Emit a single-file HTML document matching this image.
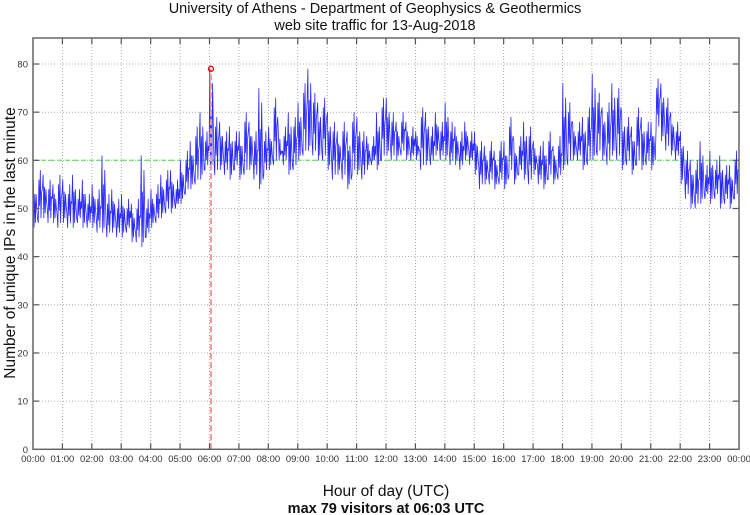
<!DOCTYPE html>
<html><head><meta charset="utf-8"><style>
body{margin:0;background:#fff;}
svg{display:block;font-family:"Liberation Sans",sans-serif;}
</style></head><body>
<svg id="chart" width="750" height="515" viewBox="0 0 750 515" xmlns="http://www.w3.org/2000/svg">
<text x="375" y="13" text-anchor="middle" font-size="14.5" fill="#111">University of Athens - Department of Geophysics &amp; Geothermics</text>
<text x="375" y="30" text-anchor="middle" font-size="14.5" fill="#111">web site traffic for 13-Aug-2018</text>
<text transform="translate(15,243) rotate(-90)" text-anchor="middle" font-size="15.5" fill="#111">Number of unique IPs in the last minute</text>
<text x="386" y="496" text-anchor="middle" font-size="15.5" fill="#111">Hour of day (UTC)</text>
<text x="386" y="513" text-anchor="middle" font-size="14.5" font-weight="bold" fill="#111">max 79 visitors at 06:03 UTC</text>
<g id="grid"></g>
<g id="marks"></g>
<g id="axes"></g>
</svg>
<script>
const hourLabels=["00:00","01:00","02:00","03:00","04:00","05:00","06:00","07:00","08:00","09:00","10:00","11:00","12:00","13:00","14:00","15:00","16:00","17:00","18:00","19:00","20:00","21:00","22:00","23:00","00:00"];
const yTicks=[0,10,20,30,40,50,60,70,80];
const binMinutes=10;
const hiValues=[56,58,57,56,55,57, 56,55,57,54,56,53, 55,54,61,53,54,52, 53,52,51,52,61,52, 54,55,57,58,58,56, 60,62,64,67,70,66,
 79,69,68,66,67,66, 66,70,68,66,75,66, 67,73,65,67,70,69, 72,76,79,74,72,73, 70,68,66,68,66,70, 69,66,65,65,70,73,
 73,70,68,70,68,67, 66,71,70,67,70,68, 72,68,67,66,68,66, 66,64,63,64,62,64, 64,69,64,65,68,67, 64,63,64,66,63,65,
 76,72,68,68,69,71, 78,74,71,72,76,75, 70,69,67,71,69,68, 68,77,76,73,70,68, 66,62,60,60,64,59, 62,60,61,59,59,62];
const loValues=[46,47,48,47,47,46, 47,46,46,47,46,46, 46,45,45,44,45,44, 44,45,43,43,42,44, 46,47,48,49,49,50, 51,53,54,55,56,58,
 58,57,58,57,56,58, 56,57,58,56,54,57, 58,59,60,59,57,58, 60,61,62,61,60,60, 58,56,57,56,54,57, 57,56,58,59,58,60,
 61,60,60,61,60,60, 60,58,59,59,61,60, 60,59,59,58,60,59, 57,54,55,55,54,55, 54,57,55,57,56,55, 57,55,54,56,55,56,
 58,59,60,60,58,59, 60,61,60,59,61,60, 58,59,57,59,58,59, 58,66,64,62,61,60, 55,52,50,50,51,52, 51,52,50,51,50,52];
const meanValue=[60];
const peakMinute=[363];
const peakValue=[79];

const L=33,R=739,T=38,B=449.3,YMAX=85.4;
const sx=m=>L+(R-L)*m/1440;
const sy=v=>B-(B-T)*v/YMAX;
const NS="http://www.w3.org/2000/svg";
function mk(tag,parent,attrs){const e=document.createElementNS(NS,tag);for(const k in attrs)e.setAttribute(k,attrs[k]);parent.appendChild(e);return e;}
const grid=document.getElementById('grid'),marks=document.getElementById('marks'),axes=document.getElementById('axes');

hourLabels.forEach((lab,i)=>{
  const x=sx(i*60);
  if(i>0&&i<24){
    const g=mk('line',grid,{x1:x,x2:x,y1:T,y2:B,stroke:'#999','stroke-width':0.8,'stroke-dasharray':'1,2'});
    
    
    mk('line',axes,{x1:x,x2:x,y1:B,y2:B-6,stroke:'#555','stroke-width':1.2});
    mk('line',axes,{x1:x,x2:x,y1:T,y2:T+6,stroke:'#555','stroke-width':1.2});
  }
  const t=mk('text',axes,{x:x,y:462,'text-anchor':'middle','font-size':9.5,fill:'#333'});
  t.textContent=lab;
  
  
});
yTicks.forEach(v=>{
  const y=sy(v);
  if(v>0){
    const g=mk('line',grid,{x1:L,x2:R,y1:y,y2:y,stroke:'#999','stroke-width':0.8,'stroke-dasharray':'1,2'});
    
    
    mk('line',axes,{x1:L,x2:L+6,y1:y,y2:y,stroke:'#555','stroke-width':1.2});
    mk('line',axes,{x1:R,x2:R-6,y1:y,y2:y,stroke:'#555','stroke-width':1.2});
  }
  const t=mk('text',axes,{x:28,y:y+3.5,'text-anchor':'end','font-size':9.5,fill:'#333'});
  t.textContent=v;
  
  
});
const frame=mk('rect',axes,{x:L,y:T,width:R-L,height:B-T,fill:'none',stroke:'#666','stroke-width':1.5});



const ml=mk('line',marks,{x1:L,x2:R,y1:sy(meanValue[0]),y2:sy(meanValue[0]),stroke:'#7de27d','stroke-width':1.3,'stroke-dasharray':'5,3'});



let pts=[];
hiValues.forEach((h,i)=>{
  const lo=loValues[i];
  const m0=i*binMinutes;
  const mid=(h+lo)/2;
  const seq=(i%2===0)?[h,lo,mid+2,lo+1,h-3,mid-1,lo+2]:[lo,h-2,mid-2,h,lo+1,mid+1,h-4];
  seq.forEach((v,k)=>{pts.push(sx(m0+0.7+k*1.4).toFixed(2)+','+sy(v).toFixed(1));});
});
const pl=mk('polyline',marks,{points:pts.join(' '),fill:'none',stroke:'#2a2aff','stroke-width':0.8,'stroke-linejoin':'miter'});



const px=sx(peakMinute[0]);
const pv=mk('line',marks,{x1:px,x2:px,y1:B,y2:sy(peakValue[0]),stroke:'#f39a9a','stroke-width':2,'stroke-dasharray':'6,3'});


const pc=mk('circle',marks,{cx:px,cy:sy(peakValue[0]),r:2.5,fill:'none',stroke:'#e00','stroke-width':1.3});


</script>
</body></html>
